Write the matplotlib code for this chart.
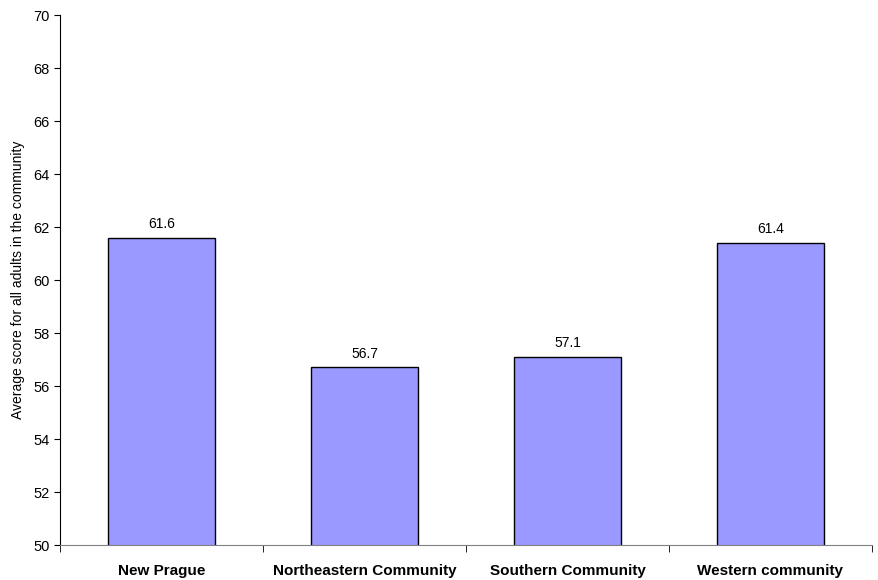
import matplotlib
matplotlib.use("Agg")
import matplotlib.pyplot as plt
import numpy as np

categories = ["New Prague", "Northeastern Community", "Southern Community", "Western community"]
scores = [61.6, 56.7, 57.1, 61.4]

plt.rcParams['font.family'] = ['Liberation Sans Narrow', 'Liberation Sans', 'DejaVu Sans']

fig = plt.figure(figsize=(8.79, 5.80), dpi=100)
ax = fig.add_axes([0.0683, 0.0603, 0.9237, 0.9137])

x = np.arange(len(categories))
bars = ax.bar(x, scores, width=0.53, bottom=0, color="#9999FF", edgecolor="black", linewidth=1)

for xi, v in zip(x, scores):
    ax.text(xi, v + 0.25, f"{v:.1f}", ha="center", va="bottom", fontsize=10)

ax.set_ylim(50, 70)
ax.set_xlim(-0.5, len(categories) - 0.5)
ax.set_yticks(np.arange(50, 71, 2))
ax.tick_params(axis="y", labelsize=10.5, length=4, direction="out")

ax.set_xticks(x)
ax.set_xticklabels(categories, fontsize=11, fontweight="bold")
ax.tick_params(axis="x", length=0, pad=14)
ax.set_xticks(np.arange(-0.5, len(categories)), minor=True)
ax.tick_params(axis="x", which="minor", length=5, direction="out")

ax.spines["top"].set_visible(False)
ax.spines["right"].set_visible(False)
ax.spines["bottom"].set_color("#808080")

ax.set_ylabel("Average score for all adults in the community", fontsize=10, labelpad=6)

fig.savefig("out.png", dpi=100)
